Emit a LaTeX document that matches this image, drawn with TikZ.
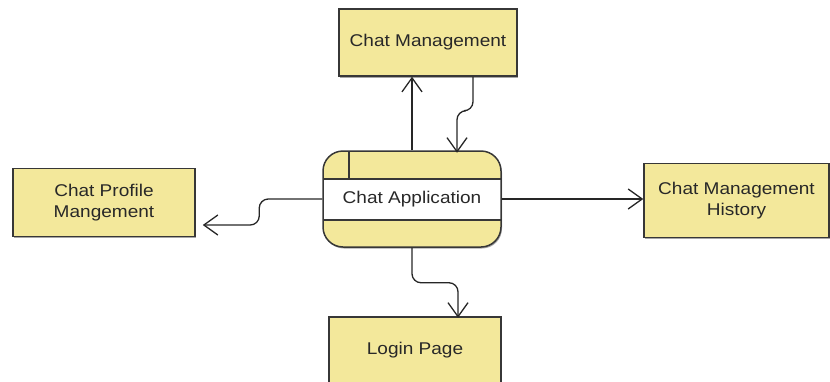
\documentclass[tikz,border=0pt]{standalone}
\usepackage{fontspec}
\setmainfont[FakeStretch=1.12]{Liberation Sans}
\usetikzlibrary{arrows.meta,shadows}
\definecolor{boxfill}{RGB}{243,232,155}
\definecolor{boxline}{RGB}{55,55,55}
\definecolor{txtcol}{RGB}{40,40,40}
\begin{document}
\begin{tikzpicture}[x=1pt,y=-1pt,
  box/.style={draw=boxline, line width=1.5pt, fill=boxfill, text=txtcol,
    font=\fontsize{17}{21}\selectfont, align=center, inner sep=0pt,
    drop shadow={shadow xshift=1pt, shadow yshift=-1.5pt, opacity=0.35, fill=black}},
  arr/.style={draw=black!85, line width=1.3pt, -{Straight Barb[length=14pt,width=20pt,line width=1.3pt]}, rounded corners=9pt}
]
\useasboundingbox (0,0) rectangle (830,381);

\node[box, minimum width=178pt, minimum height=67pt] (cm) at (428,42.5) {Chat Management};
\node[box, minimum width=182pt, minimum height=68pt] (prof) at (104,202.5) {Chat Profile\\Mangement};
\node[box, minimum width=185pt, minimum height=74pt] (hist) at (736.5,200.5) {Chat Management\\History};
\node[box, minimum width=172pt, minimum height=66pt] (login) at (415,350) {Login Page};
\node[box, rounded corners=20pt, minimum width=178pt, minimum height=96pt,
  path picture={
    \fill[white, sharp corners] ([yshift=20pt]path picture bounding box.west) rectangle ([yshift=-21pt]path picture bounding box.east);
    \draw[boxline, line width=1.5pt, sharp corners] ([yshift=20pt]path picture bounding box.west) -- ([yshift=20pt]path picture bounding box.east);
    \draw[boxline, line width=1.5pt, sharp corners] ([yshift=-21pt]path picture bounding box.west) -- ([yshift=-21pt]path picture bounding box.east);
    \draw[boxline, line width=1.5pt, sharp corners] ([xshift=26pt]path picture bounding box.north west) -- ++(0pt,-28pt);
  }] (app) at (412,199) {Chat Application};

% up arrow
\draw[arr] (app.north) -- (app.north |- cm.south);
% down arrow from Chat Management
\draw[arr] ([xshift=45pt]cm.south) -- ++(0,34) -- ++(-16,0) -- ++(0,42);
% right arrow
\draw[arr] (app.east) -- (hist.west |- app.east);
% left arrow
\draw[arr, shorten >=7pt] (app.west) -- ++(-63,0) -- ++(0,26) -- ([yshift=-22.5pt]prof.east);
% down arrow to login
\draw[arr] (app.south) -- ++(0,35) -- ++(46,0) -- ++(0,35);
\end{tikzpicture}
\end{document}
